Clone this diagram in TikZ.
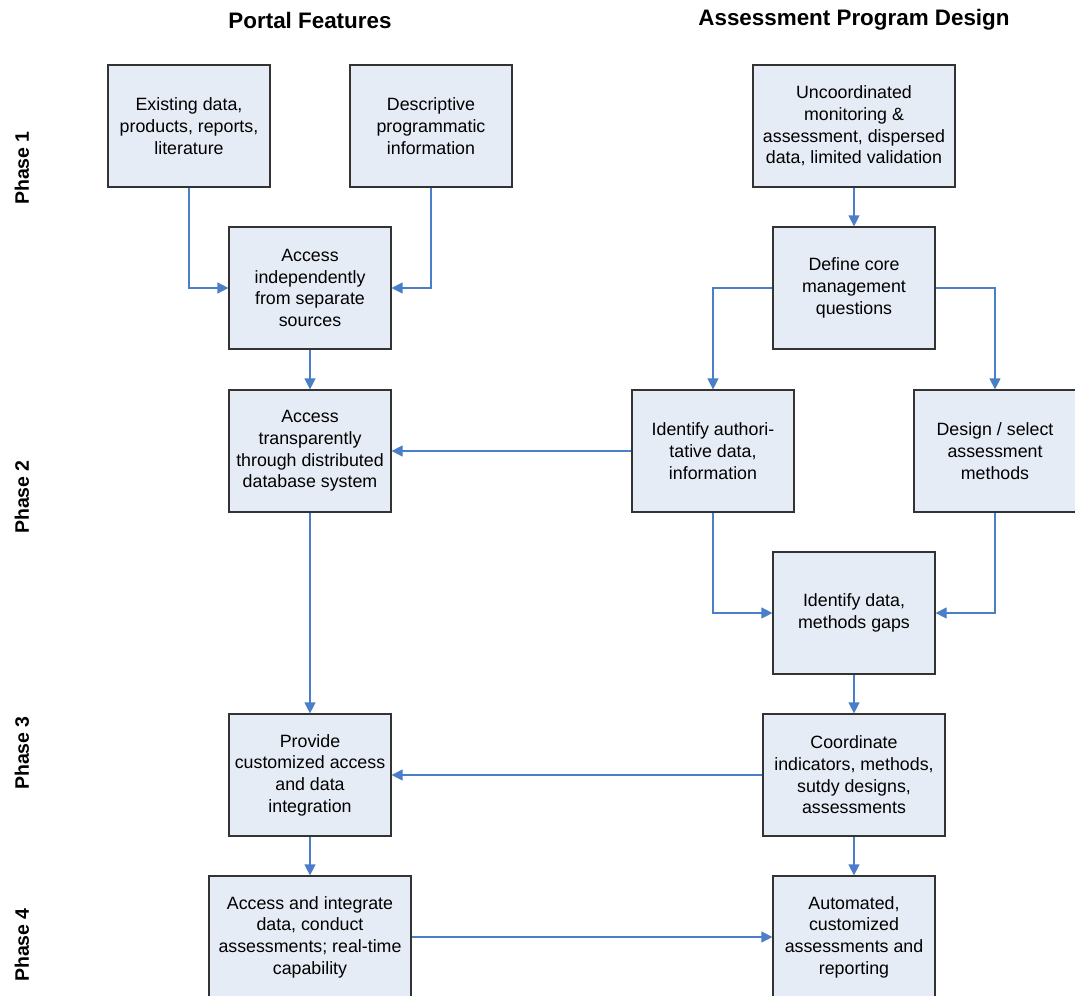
\documentclass[tikz,border=0pt]{standalone}
\usepackage{fontspec}
\setmainfont{Liberation Sans}
\usetikzlibrary{arrows.meta,shadows}
\definecolor{boxfill}{HTML}{E6ECF6}
\definecolor{boxline}{HTML}{333333}
\definecolor{flowblue}{HTML}{4A7EC8}
\begin{document}
\begin{tikzpicture}[x=1pt,y=-1pt,
  stepbox/.style={draw=boxline, line width=1.2pt, fill=boxfill, rectangle,
    minimum width=162pt, minimum height=122pt, inner sep=2pt, align=center,
    font=\fontsize{17.8}{21.7}\selectfont,
    drop shadow={shadow xshift=1.2pt, shadow yshift=-1.2pt, fill=black!45, opacity=0.7}},
  widebox/.style={stepbox, minimum width=202pt},
  midbox/.style={stepbox, minimum width=182pt},
  flow/.style={draw=flowblue, line width=1.2pt,
    -{Triangle[length=11pt, width=11pt]}},
  header/.style={font=\fontsize{22.4}{26}\selectfont\bfseries},
  phase/.style={font=\fontsize{19.5}{24}\selectfont\bfseries, rotate=90}]
\useasboundingbox (0,0) rectangle (1075,995);

% column headings
\node[header] (hPortal) at (310,20) {Portal Features};
\node[header] (hDesign) at (854,20) {Assessment Program Design};

% phase labels
\node[phase] (p1) at (22,168) {Phase 1};
\node[phase] (p2) at (22,497) {Phase 2};
\node[phase] (p3) at (22,753) {Phase 3};
\node[phase] (p4) at (22,945) {Phase 4};

% portal features column
\node[stepbox] (exist) at (189,126) {Existing data,\\products, reports,\\literature};
\node[stepbox] (descr) at (431,126) {Descriptive\\programmatic\\information};
\node[stepbox] (indep) at (310,288) {Access\\independently\\from separate\\sources};
\node[stepbox] (transp) at (310,451) {Access\\transparently\\through distributed\\database system};
\node[stepbox] (custom) at (310,775) {Provide\\customized access\\and data\\integration};
\node[widebox] (integr) at (310,937) {Access and integrate\\data, conduct\\assessments; real-time\\capability};

% assessment program design column
\node[widebox] (uncoord) at (854,126) {Uncoordinated\\monitoring \&\\assessment, dispersed\\data, limited validation};
\node[stepbox] (define) at (854,288) {Define core\\management\\questions};
\node[stepbox] (ident) at (713,451) {Identify authori-\\tative data,\\information};
\node[stepbox] (design) at (995,451) {Design / select\\assessment\\methods};
\node[stepbox] (gaps) at (854,613) {Identify data,\\methods gaps};
\node[midbox] (coord) at (854,775) {Coordinate\\indicators, methods,\\sutdy designs,\\assessments};
\node[stepbox] (auto) at (854,937) {Automated,\\customized\\assessments and\\reporting};

% connectors
\draw[flow] (exist.south) |- (indep.west);
\draw[flow] (descr.south) |- (indep.east);
\draw[flow] (indep) -- (transp);
\draw[flow] (transp) -- (custom);
\draw[flow] (custom) -- (integr);
\draw[flow] (integr) -- (auto);

\draw[flow] (uncoord) -- (define);
\draw[flow] (define.west) -| (ident.north);
\draw[flow] (define.east) -| (design.north);
\draw[flow] (ident) -- (transp);
\draw[flow] (ident.south) |- (gaps.west);
\draw[flow] (design.south) |- (gaps.east);
\draw[flow] (gaps) -- (coord);
\draw[flow] (coord) -- (custom);
\draw[flow] (coord) -- (auto);
\end{tikzpicture}
\end{document}
